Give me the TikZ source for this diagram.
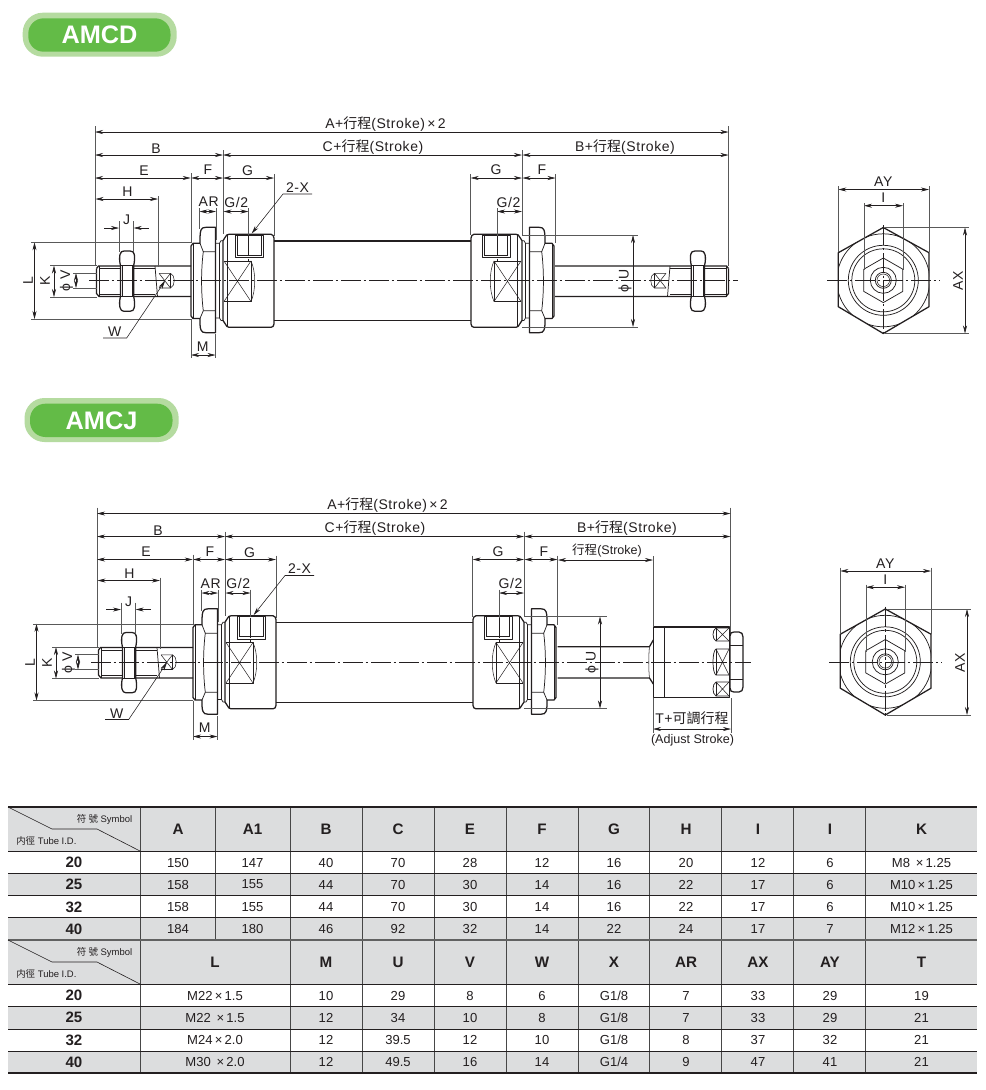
\documentclass[tikz,border=0pt]{standalone}
\usepackage{fontspec}
\usetikzlibrary{arrows.meta}
\setmainfont{Liberation Sans}
\newfontfamily\cjk{Noto Sans CJK TC}
\newfontfamily\lblfont[LetterSpace=4]{Liberation Sans}
\definecolor{badgeout}{HTML}{B5DBA0}
\definecolor{badgein}{HTML}{63BB47}
\definecolor{rowgray}{HTML}{DCDDDE}
\definecolor{inkc}{HTML}{231F20}
\tikzset{
  heavy/.style={draw=inkc,line width=.95pt,line join=round},
  medium/.style={draw=inkc,line width=.55pt,line join=round},
  fine/.style={draw=inkc,line width=.4pt},
  extline/.style={draw=black!65,line width=.42pt},
  dimline/.style={draw=inkc,line width=.42pt,{Stealth[length=6pt,width=3pt]}-{Stealth[length=6pt,width=3pt]}},
  tipend/.style={draw=inkc,line width=.42pt,-{Stealth[length=6pt,width=3pt]}},
  centerline/.style={draw=inkc,line width=.4pt,dash pattern=on 15pt off 2pt on 2pt off 2pt},
  lbl/.style={inner sep=0pt,text=inkc,font=\lblfont\fontsize{10.5}{12}\selectfont},
  lblsmall/.style={inner sep=0pt,text=inkc,font=\fontsize{9.4}{11}\selectfont},
  badgetext/.style={inner sep=0pt,text=white,font=\bfseries\fontsize{19}{22}\selectfont},
  cell/.style={inner sep=0pt,text=inkc,font=\fontsize{9.8}{12}\selectfont},
  headcell/.style={inner sep=0pt,text=inkc,font=\bfseries\fontsize{11.4}{13}\selectfont},
  idcell/.style={inner sep=0pt,text=inkc,font=\bfseries\fontsize{11.3}{13}\selectfont},
  tinycell/.style={inner sep=0pt,text=inkc,font=\fontsize{7.1}{9}\selectfont},
  rowrule/.style={draw=inkc,line width=.75pt},
  colrule/.style={draw=black!72,line width=.75pt},
  outerrule/.style={draw=inkc,line width=1.9pt},
  midrule/.style={draw=black!62,line width=1.4pt},
  diagrule/.style={draw=inkc,line width=.45pt},
}
\newcommand{\hz}[1]{{\cjk #1}}
\newcommand{\dimh}[3]{\draw[dimline] (#2,#1) -- (#3,#1);}
\newcommand{\dimv}[3]{\draw[dimline] (#1,#2) -- (#1,#3);}
\newcommand{\exv}[3]{\draw[extline] (#1,#2) -- (#1,#3);}
\newcommand{\exh}[3]{\draw[extline] (#2,#1) -- (#3,#1);}
% rod, thread, nut and wrench flat; #1 = x where the rod meets the end cap
\newcommand{\rodassy}[1]{
  \draw[heavy] (96.5,268.5) -- (98.5,266) -- (#1,266);
  \draw[heavy] (96.5,268.5) -- (96.5,293.5) -- (99,296.5) -- (#1,296.5);
  \draw[fine] (99,266) -- (99,296.5);
  \draw[fine] (99,268.5) -- (155,268.5) (99,294) -- (155,294);
  \draw[medium] (155,266) -- (157.5,296.5);
  \draw[fine] (159,273.3) -- (170.5,273.3) .. controls (175.5,275) and (175.5,286) .. (170.5,288) -- (159,288);
  \draw[fine] (170.5,273.3) -- (170.5,288) (159,273.3) -- (170.5,288) (159,288) -- (170.5,273.3);
  \filldraw[heavy,fill=white] (120.5,265.5) .. controls (119.5,262) and (119.3,257) .. (120,254.5)
     .. controls (120.5,252) and (122,251) .. (124,251) -- (130,251)
     .. controls (132.5,251) and (134,252) .. (134.3,254.5)
     .. controls (134.8,257) and (134.6,262) .. (133.7,265.5)
     -- (133.7,296.5) .. controls (134.6,300) and (134.8,305) .. (134.3,307.5)
     .. controls (134,310) and (132.5,311.3) .. (130,311.3) -- (124,311.3)
     .. controls (122,311.3) and (120.5,310) .. (120,307.5)
     .. controls (119.3,305) and (119.5,300) .. (120.5,296.5) -- cycle;
  \draw[fine] (122,266) -- (122,296) (132.2,266) -- (132.2,296);
  \draw[fine] (120.5,265.5) -- (133.7,265.5) (120.5,296.5) -- (133.7,296.5);
}
% flange nut, neck and body at one end of the tube
\newcommand{\bodyhalf}{
  \draw[heavy] (191,246) -- (191,316) -- (193,318.5) -- (200,318.5) .. controls (200,324) and (200,328) .. (201,330)
     .. controls (202,332) and (203,332.7) .. (206,332.7) -- (215.5,332.7) -- (215.5,227.3) -- (206,227.3)
     .. controls (203,227.3) and (202,228) .. (201,230) .. controls (200,232) and (200,238) .. (200,243.3) -- (193,243.3) -- cycle;
  \draw[fine] (193,243.5) -- (193,318.3);
  \draw[medium] (200,243.3) -- (203.3,251.7) -- (215.5,251.7);
  \draw[medium] (200,318.5) -- (203.3,310.7) -- (215.5,310.7);
  \draw[medium] (203.3,251.7) .. controls (201,270) and (201,292) .. (203.3,310.7);
  \draw[medium] (215.5,243.3) -- (219.5,243.3) -- (221,240.7) -- (223,240.7);
  \draw[medium] (215.5,318) -- (219.5,318) -- (221,320.5) -- (223,320.5);
  \draw[fine] (219.5,243.3) -- (219.5,318);
  \draw[heavy] (223,240.7) -- (225,237.5) .. controls (226,235) and (227.5,234.3) .. (229,234.3) -- (271,234.3)
     .. controls (272.5,234.3) and (274,236) .. (274,238) -- (274,324) .. controls (274,326) and (272.5,327.3) .. (271,327.3)
     -- (229,327.3) .. controls (227.5,327.3) and (226,326) .. (225,323.5) -- (223,320.5) -- cycle;
  \draw[fine] (227.7,234.3) -- (227.7,327.3);
  \draw[medium] (235,235) rectangle (263,257.5);
  \draw[fine] (237.5,235) -- (237.5,255) -- (261,255) -- (261,235);
  \draw[centerline] (248,236) -- (248,262);
  \draw[medium] (224,261) -- (251,261) -- (251,301.5) -- (224,301.5);
  \draw[fine] (224,261) -- (251,301.5) (224,301.5) -- (251,261);
  \draw[fine] (251,261) .. controls (256,272) and (256,290) .. (251,301.5);
}
% dimension set shared by both side views
\newcommand{\commondims}{
  \exv{95}{126}{265} \exv{728.5}{126}{266}
  \draw[dimline] (95,132) -- (728.5,132);
  \node[lbl] (lA) at (385.5,124) {A+\hz{行程}(Stroke)\,×\,2};
  \dimh{155}{95}{223} \exv{223}{150}{234}
  \node[lbl] (lB) at (156,149) {B};
  \dimh{155}{223}{522} \exv{522}{150}{235}
  \node[lbl] (lC) at (373,147) {C+\hz{行程}(Stroke)};
  \dimh{155}{522.5}{728.5}
  \node[lbl] (lBp) at (625,147) {B+\hz{行程}(Stroke)};
  \dimh{178}{95}{190.7} \dimh{178}{191.2}{223} \dimh{178}{223}{274}
  \exv{191}{173}{243} \exv{274}{174}{236}
  \node[lbl] (lE) at (144,170.5) {E};
  \node[lbl] (lF) at (208,170) {F};
  \node[lbl] (lG) at (247.5,171) {G};
  \dimh{178}{470.7}{522} \dimh{178}{522.5}{555.5}
  \exv{470.7}{174}{235} \exv{555.5}{174}{243}
  \node[lbl] (lGr) at (496,170) {G};
  \node[lbl] (lFr) at (542,170) {F};
  \dimh{199}{95.5}{158} \exv{158}{196}{267}
  \node[lbl] (lH) at (127.5,192) {H};
  \draw[tipend] (104,228) -- (119,228);
  \draw[tipend] (148.5,228) -- (133.7,228);
  \exv{119}{221}{252} \exv{133.5}{221}{252}
  \node[lbl] (lJ) at (126.7,220) {J};
  \dimh{211.5}{199.5}{216} \exv{199.5}{208}{229} \exv{216}{208}{240}
  \node[lbl] (lAR) at (208.7,202) {AR};
  \dimh{211.5}{223.5}{248.5} \exv{248.5}{208}{235}
  \node[lbl] (lGh) at (236.3,202) {G/2};
  \dimh{211.5}{497}{522} \exv{497}{208}{236}
  \node[lbl] (lGhr) at (508.5,202) {G/2};
  \draw[tipend] (312,194) -- (283,194) -- (251.7,233.5);
  \node[lbl] (lX) at (297.5,187.5) {2-X};
  \dimv{34.5}{242.3}{319} \exh{242.3}{31}{191} \exh{319}{31}{191}
  \node[lbl,rotate=90] (lL) at (28,281) {L};
  \dimv{54}{265.5}{297} \exh{265.5}{50}{97} \exh{297}{50}{97}
  \node[lbl,rotate=90] (lK) at (45,281) {K};
  \dimv{76}{273}{288} \exh{273}{73}{97} \exh{288}{73}{97}
  \node[lbl,rotate=90] (lV) at (66.5,281) {ϕ V};
  \draw[tipend] (103,338) -- (126.7,338) -- (165,281);
  \node[lbl] (lW) at (114.7,332) {W};
  \dimh{355}{191}{215.5} \exv{191}{319}{358} \exv{215.5}{334}{358}
  \node[lbl] (lM) at (202.7,346.5) {M};
}
% end view
\newcommand{\hexview}{
  \begin{scope}
    \clip (883.3,227.5) -- (929,252.7) -- (929,306.7) -- (883.3,333.5) -- (838.3,306.7) -- (838.3,252.7) -- cycle;
    \draw[medium] (883.3,280.3) circle (46.5);
  \end{scope}
  \draw[heavy] (883.3,227.5) -- (929,252.7) -- (929,306.7) -- (883.3,333.5) -- (838.3,306.7) -- (838.3,252.7) -- cycle;
  \draw[medium] (883.3,280.3) circle (35) circle (31.5);
  \draw[medium] (883.3,258) -- (902.8,269.2) -- (902.8,291.4) -- (883.3,302.6) -- (863.8,291.4) -- (863.8,269.2) -- cycle;
  \draw[medium] (883.3,280.3) circle (13) circle (8);
  \draw[fine] (883.3,280.3) circle (6.3);
  \draw[centerline] (827,280.3) -- (940,280.3) (883.3,225) -- (883.3,335);
  \dimh{189.5}{838.3}{929} \exv{838.3}{186}{252} \exv{929}{186}{252}
  \node[lbl] (lAY) at (883.3,182) {AY};
  \dimh{205.7}{864}{903} \exv{864}{203}{270} \exv{903}{203}{270}
  \node[lbl] (lI) at (883.3,198) {I};
  \dimv{965}{227.5}{333.5} \exh{227.5}{885}{969} \exh{333.5}{885}{969}
  \node[lbl,rotate=90] (lAX) at (958,281) {AX};
}
% #1 y, #2 x centres, #3 values, #4 name
\newcommand{\tabrow}[4]{
  \foreach \t [count=\i] in {#3}{
    \pgfmathsetmacro\cx{{#2}[\i-1]}
    \node[cell] (#4c\i) at (\cx,#1) {\t};
  }
}
\def\colsA{178,252.5,326,398,470,542,614,686,758,830,921.5}
\def\colsB{215,326,398,470,542,614,686,758,830,921.5}
\begin{document}
\begin{tikzpicture}[x=.75pt,y=-.75pt]
\useasboundingbox (0,0) rectangle (986,1090);
\fill[white] (0,0) rectangle (986,1090);

% badges
\fill[badgeout,rounded corners=15pt] (22.7,12.7) rectangle (176.7,56.7);
\fill[badgein,rounded corners=11.5pt] (28.3,18.3) rectangle (170.5,51.7);
\node[badgetext] (badgeD) at (99.5,35) {AMCD};
\fill[badgeout,rounded corners=15pt] (24.5,398) rectangle (178.7,442);
\fill[badgein,rounded corners=11.5pt] (30,403.7) rectangle (172.5,437);
\node[badgetext] (badgeJ) at (101.5,420.3) {AMCJ};

% AMCD side view
\begin{scope}[name prefix=d-]
  \draw[heavy] (274,241) -- (471,241) (274,320.8) -- (471,320.8);
  \rodassy{191}
  \bodyhalf
  \begin{scope}[xscale=-1,shift={(-745,0)}] \bodyhalf \end{scope}
  \begin{scope}[xscale=-1,shift={(-825,0)}] \rodassy{270} \end{scope}
  \draw[centerline] (89,280.5) -- (738,280.5);
  \commondims
  \dimv{633}{235}{327} \exh{235}{522}{638} \exh{327}{522}{638}
  \node[lbl,rotate=90] (lU) at (625,281) {ϕ U};
  \hexview
\end{scope}

% AMCJ side view
\begin{scope}[shift={(2,381.5)},name prefix=j-]
  \draw[heavy] (274,241) -- (471,241) (274,320.8) -- (471,320.8);
  \rodassy{191}
  \bodyhalf
  \begin{scope}[xscale=-1,shift={(-745,0)}] \bodyhalf \end{scope}
  \commondims
  \dimv{598}{235}{327} \exh{235}{522}{605} \exh{327}{522}{605}
  \node[lbl,rotate=90] (lU) at (590,281) {ϕ U};
  \hexview
\end{scope}

% AMCJ adjuster end
\draw[heavy] (557.5,646.7) -- (649.5,646.7) -- (653.3,640);
\draw[heavy] (557.5,678) -- (649.5,678) -- (653.3,684);
\draw[fine] (649.5,646.7) .. controls (648.5,655) and (648.5,670) .. (649.5,678);
\draw[heavy] (653.3,627) rectangle (729.5,697.5);
\draw[fine] (664.7,627) -- (664.7,697.5);
\foreach \ya/\yb/\n in {628/641/top,649/675/mid,682/696/bot}{
  \draw[medium] (729,\ya) -- (716,\ya) .. controls (712,{\ya+2}) and (712,{\yb-2}) .. (716,\yb) -- (729,\yb);
  \draw[fine] (716,\ya) -- (716,\yb);
  \draw[fine] (716,\ya) -- (729,\yb) (716,\yb) -- (729,\ya);
}
\filldraw[heavy,fill=white] (730,636) .. controls (730,633) and (731.5,632) .. (734,632) -- (739,632)
   .. controls (741.5,632) and (743,634) .. (743,637) -- (743,687) .. controls (743,690) and (741.5,692) .. (739,692)
   -- (734,692) .. controls (731.5,692) and (730,691) .. (730,688) -- cycle;
\draw[medium] (730,645) -- (743,645) (730,679) -- (743,679);
\draw[centerline] (91,662) -- (751,662);
\dimh{560}{558}{653} \exv{653}{556}{627}
\node[lblsmall] (lStrokeJ) at (607,551) {\hz{行程}(Stroke)};
\dimh{729}{653}{731} \exv{653}{698}{733} \exv{731}{698}{733}
\node[lbl] (lT) at (692,718.5) {T+\hz{可調行程}};
\node[lblsmall] (lAdj) at (692.5,740) {(Adjust Stroke)};

% tables
\fill[rowgray] (8,807) rectangle (977,851);
\fill[rowgray] (8,873) rectangle (977,895.5);
\fill[rowgray] (8,917) rectangle (977,984);
\fill[rowgray] (8,1006) rectangle (977,1029);
\fill[rowgray] (8,1051) rectangle (977,1073);
\foreach \x in {140,290,362,434,506,578,649.5,721.5,793.5,865.5}{\draw[colrule] (\x,807) -- (\x,1073);}
\draw[colrule] (215,807) -- (215,940);
\foreach \y in {851,873,895.5,917,984,1006,1029,1051}{\draw[rowrule] (8,\y) -- (977,\y);}
\draw[midrule] (8,940) -- (977,940);
\draw[outerrule] (8,807) -- (977,807);
\draw[outerrule] (8,1073) -- (977,1073);
\draw[diagrule] (8,807) -- (52,829) -- (97,829) -- (140,851);
\draw[diagrule] (8,940) -- (52,962) -- (97,962) -- (140,984);
\node[tinycell,anchor=east] (symA) at (132.5,819) {\hz{符 號} Symbol};
\node[tinycell,anchor=west] (tubeA) at (16,841) {\hz{内徑} Tube I.D.};
\node[tinycell,anchor=east] (symB) at (132.5,952) {\hz{符 號} Symbol};
\node[tinycell,anchor=west] (tubeB) at (16,974) {\hz{内徑} Tube I.D.};
\foreach \t [count=\i] in {A,A1,B,C,E,F,G,H,I,I,K}{
  \pgfmathsetmacro\cx{{\colsA}[\i-1]}
  \node[headcell] (hA\i) at (\cx,829.5) {\t};
}
\foreach \t [count=\i] in {L,M,U,V,W,X,AR,AX,AY,T}{
  \pgfmathsetmacro\cx{{\colsB}[\i-1]}
  \node[headcell] (hB\i) at (\cx,962.5) {\t};
}
\foreach \t/\y in {20/862.5,25/884.5,32/907,40/929,20/995.5,25/1017.5,32/1040,40/1062}{
  \node[idcell] (id\y) at (74,\y) {\t};
}
\tabrow{862.5}{\colsA}{150,147,40,70,28,12,16,20,12,6,M8\ \,×\,1.25}{ra}
\tabrow{884.5}{\colsA}{158,155,44,70,30,14,16,22,17,6,M10\,×\,1.25}{rb}
\tabrow{907}{\colsA}{158,155,44,70,30,14,16,22,17,6,M10\,×\,1.25}{rc}
\tabrow{929}{\colsA}{184,180,46,92,32,14,22,24,17,7,M12\,×\,1.25}{rd}
\tabrow{995.5}{\colsB}{M22\,×\,1.5,10,29,8,6,G1/8,7,33,29,19}{re}
\tabrow{1017.5}{\colsB}{M22\ \,×\,1.5,12,34,10,8,G1/8,7,33,29,21}{rf}
\tabrow{1040}{\colsB}{M24\,×\,2.0,12,39.5,12,10,G1/8,8,37,32,21}{rg}
\tabrow{1062}{\colsB}{M30\ \,×\,2.0,12,49.5,16,14,G1/4,9,47,41,21}{rh}
\end{tikzpicture}
\end{document}
